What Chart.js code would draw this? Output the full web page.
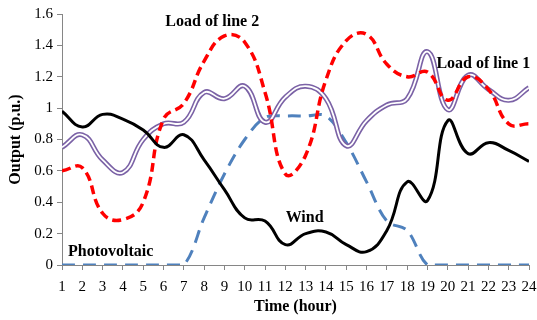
<!DOCTYPE html>
<html>
<head>
<meta charset="utf-8">
<script src="https://cdn.jsdelivr.net/npm/chart.js@4.4.1/dist/chart.umd.min.js"></script>
<style>
    html, body { margin: 0; padding: 0; background: #fff; }
    #wrap { width: 537px; height: 320px; position: relative; }
</style>
</head>
<body>
<div id="wrap"><canvas id="outputChart"></canvas></div>
<script>
// Hours on the x axis
const hours = [1, 2, 3, 4, 5, 6, 7, 8, 9, 10, 11, 12, 13, 14, 15, 16, 17, 18, 19, 20, 21, 22, 23, 24];

// Series values (p.u.)
const wind = [0.98, 0.88, 0.96, 0.93, 0.86, 0.75, 0.83, 0.67, 0.48, 0.30, 0.28, 0.13, 0.20, 0.21, 0.13, 0.085, 0.22, 0.53, 0.41, 0.92, 0.71, 0.78, 0.73, 0.66];
const loadLine2 = [0.60, 0.62, 0.33, 0.29, 0.40, 0.93, 1.03, 1.30, 1.46, 1.42, 1.10, 0.58, 0.70, 1.18, 1.43, 1.47, 1.28, 1.20, 1.23, 1.05, 1.20, 1.12, 0.90, 0.90];
const loadLine1 = [0.75, 0.83, 0.67, 0.59, 0.80, 0.90, 0.91, 1.10, 1.06, 1.14, 0.91, 1.07, 1.14, 1.06, 0.76, 0.92, 1.02, 1.06, 1.36, 0.99, 1.21, 1.12, 1.05, 1.13];
const photovoltaic = [0, 0, 0, 0, 0, 0, 0, 0.30, 0.58, 0.80, 0.94, 0.95, 0.95, 0.95, 0.78, 0.53, 0.28, 0.22, 0, 0, 0, 0, 0, 0];

// Y tick values
const yTicks = [0, 0.2, 0.4, 0.6, 0.8, 1, 1.2, 1.4, 1.6];

// Series name labels drawn inside the plot (data coordinates)
const seriesLabels = [
    { text: 'Load of line 2', x: 8.4, y: 1.55 },
    { text: 'Load of line 1', x: 21.75, y: 1.28 },
    { text: 'Wind', x: 12.95, y: 0.30 },
    { text: 'Photovoltaic', x: 3.4, y: 0.083 }
];

const serif = '"Liberation Serif", "Times New Roman", serif';
const axisGrey = '#868686';

function points(values) {
    return hours.map((h, i) => ({ x: h, y: values[i] }));
}

// Draw the in-plot series names
const seriesLabelPlugin = {
    id: 'seriesLabels',
    afterDatasetsDraw(chart) {
        const { ctx, scales } = chart;
        ctx.save();
        ctx.font = 'bold 16px ' + serif;
        ctx.fillStyle = '#000';
        ctx.textAlign = 'center';
        ctx.textBaseline = 'middle';
        seriesLabels.forEach(l => {
            ctx.fillText(l.text, scales.x.getPixelForValue(l.x), scales.y.getPixelForValue(l.y));
        });
        ctx.restore();
    }
};

const ctx = document.getElementById('outputChart');
new Chart(ctx, {
    type: 'line',
    data: {
        datasets: [
            {
                label: 'Photovoltaic',
                data: points(photovoltaic),
                borderColor: '#4F81BD',
                borderWidth: 3,
                borderDash: [13, 8],
                tension: 0.35,
                pointRadius: 0,
                order: 5
            },
            {
                label: 'Load of line 1',
                data: points(loadLine1),
                borderColor: '#7B62A6',
                borderWidth: 5,
                tension: 0.45,
                pointRadius: 0,
                order: 4
            },
            {
                label: 'Load of line 1 (inner)',
                data: points(loadLine1),
                borderColor: '#ffffff',
                borderWidth: 1.8,
                tension: 0.45,
                pointRadius: 0,
                order: 3
            },
            {
                label: 'Load of line 2',
                data: points(loadLine2),
                borderColor: '#FF0000',
                borderWidth: 3.5,
                borderDash: [9, 5],
                tension: 0.45,
                pointRadius: 0,
                order: 2
            },
            {
                label: 'Wind',
                data: points(wind),
                borderColor: '#000000',
                borderWidth: 3,
                tension: 0.45,
                pointRadius: 0,
                order: 1
            }
        ]
    },
    options: {
        responsive: true,
        maintainAspectRatio: false,
        animation: false,
        layout: { padding: { left: 6, right: 8, top: 14, bottom: 4 } },
        plugins: {
            legend: { display: false },
            tooltip: { enabled: false }
        },
        scales: {
            x: {
                type: 'linear',
                min: 1,
                max: 24,
                afterFit: scale => {
                    scale.height = 51;
                    scale.paddingLeft = 0;
                    scale.paddingRight = 0;
                },
                ticks: {
                    stepSize: 1,
                    color: '#000',
                    padding: 8,
                    maxRotation: 0,
                    autoSkip: false,
                    font: { family: serif, size: 15 }
                },
                grid: { drawOnChartArea: false, tickLength: 5, color: axisGrey },
                border: { color: axisGrey, width: 1 },
                title: {
                    display: true,
                    text: 'Time (hour)',
                    color: '#000',
                    padding: { top: 0, bottom: 0 },
                    font: { family: serif, size: 16, weight: 'bold' }
                }
            },
            y: {
                min: 0,
                max: 1.6,
                afterFit: scale => { scale.width = 56; },
                afterBuildTicks: scale => { scale.ticks = yTicks.map(v => ({ value: v })); },
                ticks: {
                    color: '#000',
                    padding: 4,
                    callback: value => String(Number(value.toFixed(1))),
                    font: { family: serif, size: 15 }
                },
                grid: { drawOnChartArea: false, tickLength: 5, color: axisGrey },
                border: { color: axisGrey, width: 1 },
                title: {
                    display: true,
                    text: 'Output (p.u.)',
                    color: '#000',
                    padding: { top: 0, bottom: 2 },
                    font: { family: serif, size: 16, weight: 'bold' }
                }
            }
        }
    },
    plugins: [seriesLabelPlugin]
});
</script>
</body>
</html>
